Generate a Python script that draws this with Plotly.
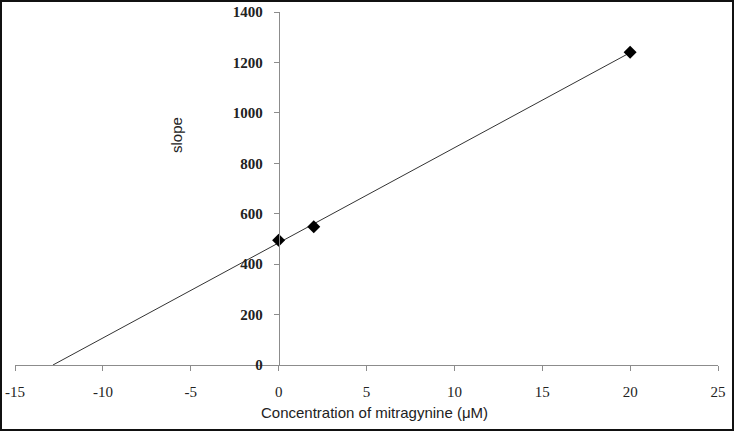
import numpy as np
import plotly.graph_objects as go

# Data
conc = [0, 2, 20]              # concentration of mitragynine (µM)
slope_vals = [495, 548, 1240]  # slope
x_ticks = [-15, -10, -5, 0, 5, 10, 15, 20, 25]
x_tick_text = ["-15", "-10", "-5", "0", "5", "10", "15", "20", "25"]
y_ticks = [0, 200, 400, 600, 800, 1000, 1200, 1400]

# Linear trendline (Excel style, forecast backward to y = 0)
m, b = np.polyfit(conc, slope_vals, 1)
x_int = -b / m
trend_x = [x_int, max(conc)]
trend_y = [m * x + b for x in trend_x]

W, H = 734, 431
L, R, T, B = 15, 16, 12, 66
pw, ph = W - L - R, H - T - B

fig = go.Figure()
fig.add_trace(go.Scatter(x=trend_x, y=trend_y, mode="lines",
                         line=dict(color="#333333", width=1), hoverinfo="skip",
                         showlegend=False))
fig.add_trace(go.Scatter(x=conc, y=slope_vals, mode="markers",
                         marker=dict(symbol="diamond", size=10, color="black"),
                         showlegend=False))

fig.update_layout(
    width=W, height=H,
    margin=dict(l=L, r=R, t=T, b=B, autoexpand=False),
    paper_bgcolor="white", plot_bgcolor="white",
    xaxis=dict(range=[-15, 25], tickvals=x_ticks, ticktext=x_tick_text,
               automargin=False, showgrid=False, zeroline=False,
               showline=True, linecolor="#8c8c8c", linewidth=1,
               ticks="outside", ticklen=5, tickcolor="#8c8c8c",
               ticklabelstandoff=8,
               tickfont=dict(family="Liberation Serif", size=15, color="#222222")),
    yaxis=dict(range=[0, 1400], tickvals=y_ticks, automargin=False,
               showgrid=False, zeroline=False,
               anchor="free", position=15 / 40,
               showline=True, linecolor="#8c8c8c", linewidth=1,
               ticks="outside", ticklen=5, tickcolor="#8c8c8c",
               ticklabelstandoff=8,
               tickfont=dict(family="Liberation Serif", size=15, color="#222222",
                             weight="bold")),
    annotations=[
        dict(text="slope", xref="paper", yref="paper",
             x=(176 - L) / pw, y=1 - (135 - T) / ph, textangle=-90,
             xanchor="center", yanchor="middle",
             showarrow=False, font=dict(family="Liberation Sans", size=15, color="#222222")),
        dict(text="Concentration of mitragynine (μM)", xref="paper", yref="paper",
             x=(374 - L) / pw, y=1 - (412 - T) / ph, showarrow=False,
             xanchor="center", yanchor="middle",
             font=dict(family="Liberation Sans", size=15, color="#222222")),
    ],
    shapes=[dict(type="rect", xref="paper", yref="paper",
                 x0=(-L + 1) / pw, x1=1 + (R - 1) / pw,
                 y0=-(B - 1) / ph, y1=1 + (T - 1) / ph,
                 line=dict(color="#111111", width=2))],
)

fig.write_html("out.html", config={"displayModeBar": False},
               post_script="document.body.style.margin='0';document.body.style.padding='0';"
                           "document.documentElement.style.overflow='hidden';")
